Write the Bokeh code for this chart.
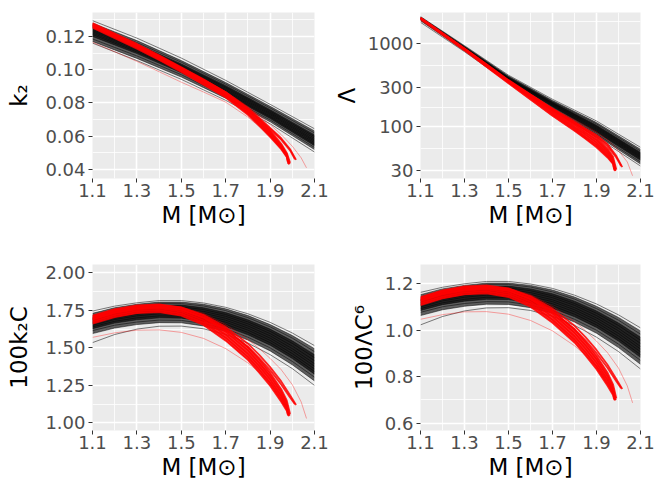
from bokeh.plotting import figure
from bokeh.layouts import gridplot
from bokeh.models import Range1d, FixedTicker, PrintfTickFormatter
from bokeh.embed import file_html
from bokeh.resources import INLINE

# ---------------- data ----------------
mass_ticks = [1.1, 1.3, 1.5, 1.7, 1.9, 2.1]
mass_minor = [1.2, 1.4, 1.6, 1.8, 2.0]

# black curves (k2, Lambda) sampled at these masses
mass_black_a = [1.1, 1.3, 1.5, 1.7, 1.9, 2.1]
# black curves (100 k2 C, 100 Lambda C^6) sampled at these masses
mass_black_b = [1.1, 1.2, 1.3, 1.4, 1.5, 1.6, 1.7, 1.8, 1.9, 2.0, 2.1]

k2_black = [
    [0.1295, 0.1190, 0.1070, 0.0936, 0.0792, 0.0645],
    [0.1280, 0.1175, 0.1055, 0.0923, 0.0780, 0.0632],
    [0.1268, 0.1163, 0.1045, 0.0913, 0.0770, 0.0620],
    [0.1258, 0.1153, 0.1035, 0.0904, 0.0760, 0.0608],
    [0.1250, 0.1145, 0.1027, 0.0896, 0.0752, 0.0598],
    [0.1242, 0.1137, 0.1020, 0.0889, 0.0744, 0.0588],
    [0.1235, 0.1130, 0.1013, 0.0881, 0.0737, 0.0578],
    [0.1228, 0.1123, 0.1006, 0.0874, 0.0730, 0.0570],
    [0.1220, 0.1115, 0.0999, 0.0867, 0.0722, 0.0561],
    [0.1212, 0.1107, 0.0992, 0.0859, 0.0715, 0.0552],
    [0.1200, 0.1097, 0.0982, 0.0851, 0.0707, 0.0543],
    [0.1185, 0.1083, 0.0970, 0.0841, 0.0698, 0.0533],
    [0.1170, 0.1068, 0.0956, 0.0829, 0.0687, 0.0520],
    [0.1160, 0.1055, 0.0942, 0.0816, 0.0675, 0.0505],
]

lam_black = [
    [2110, 945, 418, 215, 118, 57.0],
    [2085, 930, 408, 208, 113, 54.0],
    [2065, 918, 400, 203, 109, 51.5],
    [2050, 908, 394, 199, 105, 49.5],
    [2035, 900, 389, 195, 102, 48.0],
    [2022, 892, 385, 192, 99.5, 46.5],
    [2010, 885, 381, 189, 97.0, 45.2],
    [1998, 878, 377, 186, 94.5, 44.0],
    [1985, 870, 373, 183, 92.0, 42.8],
    [1970, 862, 368, 179, 89.0, 41.3],
    [1952, 852, 362, 175, 86.0, 39.8],
    [1930, 840, 355, 170, 82.5, 38.0],
    [1880, 820, 347, 165, 79.0, 36.0],
    [1800, 800, 340, 160, 76.0, 34.0],
]

k2c_black = [
    [1.745, 1.778, 1.800, 1.815, 1.815, 1.799, 1.770, 1.727, 1.670, 1.599, 1.515],
    [1.730, 1.767, 1.790, 1.805, 1.805, 1.790, 1.760, 1.715, 1.655, 1.582, 1.495],
    [1.715, 1.755, 1.780, 1.795, 1.795, 1.779, 1.748, 1.701, 1.640, 1.565, 1.475],
    [1.700, 1.741, 1.768, 1.784, 1.785, 1.767, 1.735, 1.687, 1.625, 1.547, 1.455],
    [1.690, 1.731, 1.757, 1.772, 1.773, 1.755, 1.722, 1.673, 1.610, 1.530, 1.435],
    [1.680, 1.720, 1.746, 1.761, 1.762, 1.743, 1.710, 1.660, 1.595, 1.512, 1.415],
    [1.670, 1.710, 1.735, 1.750, 1.750, 1.731, 1.697, 1.646, 1.580, 1.495, 1.395],
    [1.660, 1.699, 1.724, 1.738, 1.738, 1.718, 1.684, 1.632, 1.565, 1.479, 1.378],
    [1.650, 1.689, 1.713, 1.727, 1.726, 1.706, 1.671, 1.618, 1.550, 1.462, 1.360],
    [1.640, 1.677, 1.700, 1.713, 1.712, 1.692, 1.657, 1.603, 1.535, 1.446, 1.343],
    [1.628, 1.665, 1.687, 1.700, 1.698, 1.677, 1.642, 1.587, 1.518, 1.429, 1.325],
    [1.615, 1.651, 1.672, 1.685, 1.683, 1.662, 1.627, 1.571, 1.500, 1.410, 1.305],
    [1.595, 1.632, 1.655, 1.668, 1.667, 1.646, 1.610, 1.552, 1.480, 1.387, 1.280],
    [1.535, 1.589, 1.625, 1.644, 1.645, 1.627, 1.590, 1.532, 1.455, 1.362, 1.250],
]

lamc6_black = [
    [1.163, 1.185, 1.200, 1.210, 1.210, 1.199, 1.180, 1.151, 1.113, 1.066, 1.010],
    [1.153, 1.178, 1.193, 1.203, 1.203, 1.193, 1.173, 1.143, 1.103, 1.055, 0.997],
    [1.143, 1.170, 1.187, 1.197, 1.197, 1.186, 1.165, 1.134, 1.093, 1.043, 0.983],
    [1.133, 1.161, 1.179, 1.189, 1.190, 1.178, 1.157, 1.125, 1.083, 1.031, 0.970],
    [1.127, 1.154, 1.171, 1.181, 1.182, 1.170, 1.148, 1.115, 1.073, 1.020, 0.957],
    [1.120, 1.147, 1.164, 1.174, 1.175, 1.162, 1.140, 1.107, 1.063, 1.008, 0.943],
    [1.113, 1.140, 1.157, 1.167, 1.167, 1.154, 1.131, 1.097, 1.053, 0.997, 0.930],
    [1.107, 1.133, 1.149, 1.159, 1.159, 1.145, 1.123, 1.088, 1.043, 0.986, 0.919],
    [1.100, 1.126, 1.142, 1.151, 1.151, 1.137, 1.114, 1.079, 1.033, 0.975, 0.907],
    [1.093, 1.118, 1.133, 1.142, 1.141, 1.128, 1.105, 1.069, 1.023, 0.964, 0.895],
    [1.085, 1.110, 1.125, 1.133, 1.132, 1.118, 1.095, 1.058, 1.012, 0.953, 0.883],
    [1.077, 1.101, 1.115, 1.123, 1.122, 1.108, 1.085, 1.047, 1.000, 0.940, 0.870],
    [1.063, 1.088, 1.103, 1.112, 1.111, 1.097, 1.073, 1.035, 0.987, 0.925, 0.853],
    [1.023, 1.059, 1.083, 1.096, 1.097, 1.085, 1.060, 1.021, 0.970, 0.908, 0.833],
]

# red curves: each has its own mass samples (ending near its maximum mass)
mass_red = [
    [1.1, 1.2, 1.3, 1.4, 1.5, 1.6, 1.7, 1.8, 1.85, 1.9, 1.95, 1.975, 1.990],
    [1.1, 1.2, 1.3, 1.4, 1.5, 1.6, 1.7, 1.8, 1.85, 1.9, 1.95, 1.975, 1.988],
    [1.1, 1.2, 1.3, 1.4, 1.5, 1.6, 1.7, 1.8, 1.85, 1.9, 1.95, 1.975, 1.985],
    [1.1, 1.2, 1.3, 1.4, 1.5, 1.6, 1.7, 1.8, 1.85, 1.9, 1.95, 1.975, 1.982],
    [1.1, 1.2, 1.3, 1.4, 1.5, 1.6, 1.7, 1.8, 1.85, 1.9, 1.95, 1.975, 1.980],
    [1.1, 1.2, 1.3, 1.4, 1.5, 1.6, 1.7, 1.8, 1.85, 1.9, 1.95, 1.990, 2.017],
    [1.1, 1.2, 1.3, 1.4, 1.5, 1.6, 1.7, 1.8, 1.85, 1.9, 1.95, 1.990, 2.012],
    [1.1, 1.2, 1.3, 1.4, 1.5, 1.6, 1.7, 1.8, 1.85, 1.9, 1.95, 2.000, 2.040, 2.064],
    [1.1, 1.2, 1.3, 1.4, 1.5, 1.6, 1.7, 1.8, 1.85, 1.9, 1.95, 1.975, 1.985],
]

k2_red = [
    [0.1280, 0.1218, 0.1155, 0.1086, 0.1015, 0.0942, 0.0865, 0.0765, 0.0703, 0.0635, 0.0555, 0.0500, 0.0440],
    [0.1273, 0.1211, 0.1148, 0.1079, 0.1008, 0.0934, 0.0857, 0.0756, 0.0693, 0.0625, 0.0546, 0.0492, 0.0433],
    [0.1266, 0.1204, 0.1141, 0.1072, 0.1001, 0.0926, 0.0849, 0.0747, 0.0683, 0.0615, 0.0537, 0.0485, 0.0430],
    [0.1259, 0.1197, 0.1134, 0.1065, 0.0994, 0.0918, 0.0841, 0.0738, 0.0673, 0.0605, 0.0529, 0.0479, 0.0435],
    [0.1252, 0.1190, 0.1127, 0.1058, 0.0987, 0.0910, 0.0833, 0.0729, 0.0664, 0.0596, 0.0522, 0.0475, 0.0445],
    [0.1272, 0.1212, 0.1150, 0.1082, 0.1012, 0.0939, 0.0864, 0.0770, 0.0712, 0.0650, 0.0588, 0.0522, 0.0458],
    [0.1265, 0.1205, 0.1143, 0.1075, 0.1005, 0.0931, 0.0856, 0.0762, 0.0704, 0.0642, 0.0580, 0.0515, 0.0462],
    [0.1262, 0.1205, 0.1147, 0.1080, 0.1012, 0.0941, 0.0868, 0.0779, 0.0726, 0.0670, 0.0610, 0.0540, 0.0470, 0.0410],
    [0.1165, 0.1108, 0.1050, 0.0988, 0.0925, 0.0866, 0.0805, 0.0715, 0.0660, 0.0600, 0.0530, 0.0482, 0.0440],
]

lam_red = [
    [2040, 1336, 875, 565, 365, 245, 165, 112, 92, 75, 55, 44, 31.0],
    [2025, 1323, 865, 556, 357, 237, 157, 106, 86, 70, 51, 41, 30.0],
    [2010, 1311, 855, 547, 350, 229, 150, 100, 81, 65, 48, 39, 29.5],
    [1995, 1298, 845, 538, 343, 222, 143, 95, 76, 61, 45, 37, 30.0],
    [1980, 1286, 835, 529, 335, 213, 136, 90, 72, 57, 43, 36, 31.0],
    [2030, 1330, 872, 562, 362, 244, 165, 116, 96, 80, 62, 45, 33.0],
    [2015, 1318, 862, 553, 355, 238, 160, 111, 92, 77, 59, 43, 34.0],
    [2020, 1324, 868, 560, 362, 247, 168, 122, 103, 87, 70, 52, 38, 26.0],
    [1900, 1240, 810, 517, 330, 211, 135, 90, 72, 58, 44, 36, 31.0],
]

k2c_red = [
    [1.715, 1.758, 1.783, 1.790, 1.770, 1.716, 1.628, 1.505, 1.425, 1.335, 1.225, 1.150, 1.060],
    [1.701, 1.744, 1.770, 1.777, 1.756, 1.700, 1.608, 1.483, 1.402, 1.312, 1.203, 1.130, 1.050],
    [1.688, 1.731, 1.757, 1.764, 1.742, 1.684, 1.588, 1.461, 1.380, 1.290, 1.181, 1.110, 1.045],
    [1.675, 1.718, 1.744, 1.751, 1.728, 1.668, 1.568, 1.440, 1.358, 1.268, 1.160, 1.092, 1.048],
    [1.662, 1.705, 1.731, 1.738, 1.714, 1.652, 1.548, 1.420, 1.337, 1.248, 1.142, 1.082, 1.055],
    [1.705, 1.750, 1.776, 1.784, 1.767, 1.720, 1.640, 1.528, 1.455, 1.372, 1.277, 1.185, 1.120],
    [1.692, 1.737, 1.763, 1.771, 1.753, 1.704, 1.622, 1.508, 1.434, 1.352, 1.257, 1.170, 1.125],
    [1.700, 1.745, 1.773, 1.783, 1.772, 1.730, 1.655, 1.555, 1.497, 1.430, 1.355, 1.255, 1.140, 1.030],
    [1.570, 1.600, 1.618, 1.620, 1.603, 1.563, 1.495, 1.400, 1.340, 1.268, 1.178, 1.110, 1.050],
]

lamc6_red = [
    [1.143, 1.172, 1.189, 1.193, 1.180, 1.144, 1.085, 1.003, 0.950, 0.890, 0.817, 0.767, 0.707],
    [1.134, 1.163, 1.180, 1.185, 1.171, 1.133, 1.072, 0.989, 0.935, 0.875, 0.802, 0.753, 0.700],
    [1.125, 1.154, 1.171, 1.176, 1.161, 1.123, 1.059, 0.974, 0.920, 0.860, 0.787, 0.740, 0.697],
    [1.117, 1.145, 1.163, 1.167, 1.152, 1.112, 1.045, 0.960, 0.905, 0.845, 0.773, 0.728, 0.699],
    [1.108, 1.137, 1.154, 1.159, 1.143, 1.101, 1.032, 0.947, 0.891, 0.832, 0.761, 0.721, 0.703],
    [1.137, 1.167, 1.184, 1.189, 1.178, 1.147, 1.093, 1.019, 0.970, 0.915, 0.851, 0.790, 0.747],
    [1.128, 1.158, 1.175, 1.181, 1.169, 1.136, 1.081, 1.005, 0.956, 0.901, 0.838, 0.780, 0.750],
    [1.133, 1.163, 1.182, 1.189, 1.181, 1.153, 1.103, 1.037, 0.998, 0.953, 0.903, 0.837, 0.760, 0.687],
    [1.047, 1.067, 1.079, 1.080, 1.069, 1.042, 0.997, 0.933, 0.893, 0.845, 0.785, 0.740, 0.700],
]

k2_ticks = [0.04, 0.06, 0.08, 0.10, 0.12]
k2_minor = [0.05, 0.07, 0.09, 0.11, 0.13]
lam_ticks = [30, 100, 300, 1000]
lam_minor = [54.77, 173.2, 547.7, 1825.7]
k2c_ticks = [1.00, 1.25, 1.50, 1.75, 2.00]
k2c_minor = [1.125, 1.375, 1.625, 1.875]
lamc6_ticks = [0.6, 0.8, 1.0, 1.2]
lamc6_minor = [0.7, 0.9, 1.1]

FONT = "DejaVu Sans"
FAINT = {7, 8}


def make_panel(ylabel, mblack, yblack, yred, yrange, yticks, yminor, yfmt, log,
               width, height, bl, br, bt, bb, ystand):
    kw = dict(width=width, height=height,
              x_range=Range1d(1.1, 2.1), y_range=Range1d(*yrange),
              output_backend="svg", toolbar_location=None,
              min_border_left=bl, min_border_right=br,
              min_border_top=bt, min_border_bottom=bb)
    if log:
        kw["y_axis_type"] = "log"
    p = figure(**kw)
    p.background_fill_color = "#EBEBEB"
    p.border_fill_color = "white"
    p.outline_line_color = None

    p.xaxis.ticker = FixedTicker(ticks=mass_ticks, minor_ticks=mass_minor)
    p.yaxis.ticker = FixedTicker(ticks=yticks, minor_ticks=yminor)
    p.xaxis.formatter = PrintfTickFormatter(format="%.1f")
    p.yaxis.formatter = PrintfTickFormatter(format=yfmt)

    for g in (p.xgrid, p.ygrid):
        g.grid_line_color = "white"
        g.grid_line_width = 1.6
        g.minor_grid_line_color = "white"
        g.minor_grid_line_width = 0.8

    for ax in (p.xaxis, p.yaxis):
        ax.axis_line_color = None
        ax.major_tick_line_color = "#333333"
        ax.major_tick_line_width = 1
        ax.major_tick_in = 0
        ax.major_tick_out = 4
        ax.minor_tick_line_color = None
        ax.major_label_text_font = FONT
        ax.major_label_text_font_size = "18px"
        ax.major_label_text_color = "#4D4D4D"
        ax.axis_label_text_font = FONT
        ax.axis_label_text_font_size = "23px"
        ax.axis_label_text_font_style = "normal"
        ax.axis_label_text_color = "black"
    p.xaxis.major_label_standoff = 1
    p.xaxis.axis_label_standoff = 2
    p.yaxis.major_label_standoff = 3
    p.yaxis.axis_label_standoff = ystand
    p.xaxis.axis_label = "M [M\u2299]"
    p.yaxis.axis_label = ylabel

    # black band
    p.varea(x=mblack, y1=yblack[1], y2=yblack[12],
            fill_color="black", fill_alpha=0.6)
    p.varea(x=mblack, y1=yblack[3], y2=yblack[10],
            fill_color="black", fill_alpha=0.65)
    for ys in yblack:
        p.line(mblack, ys, line_color="black", line_alpha=0.5, line_width=1)
    # red band
    n = 12
    p.varea(x=mass_red[0][:n], y1=yred[0][:n], y2=yred[4][:n],
            fill_color="red", fill_alpha=0.8)
    for i, (ms, ys) in enumerate(zip(mass_red, yred)):
        if i in FAINT:
            p.line(ms, ys, line_color="red", line_alpha=0.35, line_width=1)
        else:
            p.line(ms, ys, line_color="red", line_alpha=0.85, line_width=1.8)
    return p


p1 = make_panel("k\u2082", mass_black_a, k2_black, k2_red, (0.0346, 0.1344),
                k2_ticks, k2_minor, "%.2f", False, 330, 240, 92, 16, 12, 62, 10)
p2 = make_panel("\u039b", mass_black_a, lam_black, lam_red, (24.1, 2362),
                lam_ticks, lam_minor, "%d", True, 336, 240, 87, 25, 12, 62, 5)
p3 = make_panel("100k\u2082C", mass_black_b, k2c_black, k2c_red, (0.95, 2.055),
                k2c_ticks, k2c_minor, "%.2f", False, 330, 244, 92, 16, 24, 54, 10)
p4 = make_panel("100\u039bC\u2076", mass_black_b, lamc6_black, lamc6_red, (0.568, 1.283),
                lamc6_ticks, lamc6_minor, "%.1f", False, 336, 244, 81, 26, 24, 54, 5)

grid = gridplot([[p1, p2], [p3, p4]], toolbar_location=None)

open("out.html", "w").write(file_html(grid, INLINE))
